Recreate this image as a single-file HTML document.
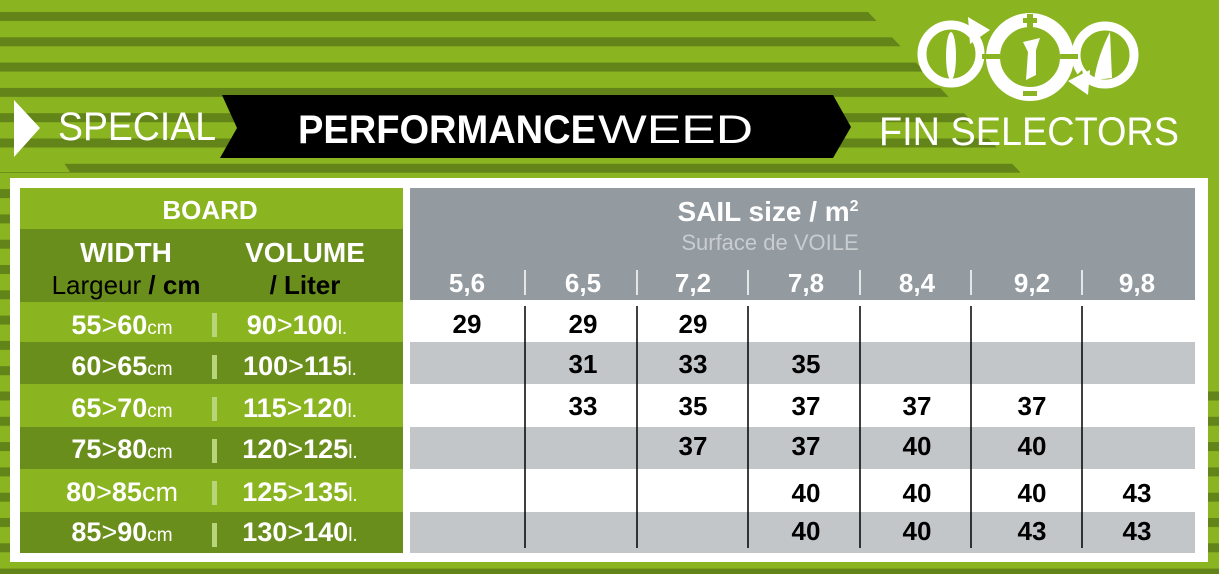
<!DOCTYPE html>
<html><head><meta charset="utf-8"><style>
html,body{margin:0;padding:0;width:1219px;height:574px;overflow:hidden;background:#8ab420}
svg{display:block}
text{font-family:"Liberation Sans",sans-serif}
</style></head><body>
<svg width="1219" height="574" viewBox="0 0 1219 574" xmlns="http://www.w3.org/2000/svg">
<defs>
<pattern id="st" x="0" y="12" width="1219" height="25.3" patternUnits="userSpaceOnUse">
<rect x="0" y="0" width="1219" height="9" fill="#628418"/>
</pattern>
</defs>
<rect width="1219" height="574" fill="#8ab420"/>
<rect width="1219" height="574" fill="url(#st)"/>
<polygon points="860,0 1219,0 1219,380 1207,380 1207,178 1020,178 1020,172 868,12 860,12" fill="#8ab420"/>
<polygon points="0,173 1219,173 1219,178 0,178" fill="#8ab420"/>
<polygon points="0,160 62,160 70,172 0,172" fill="#8ab420"/>
<polygon points="14,100 40,128 14,157" fill="#fff"/>
<text x="58" y="140" font-size="40" fill="#fff" textLength="158" lengthAdjust="spacingAndGlyphs">SPECIAL</text>
<polygon points="222,95 833,95 851,127 833,158 220,158 237,128" fill="#000"/>
<text x="298" y="143" font-size="40" fill="#fff" font-weight="bold" textLength="298" lengthAdjust="spacingAndGlyphs">PERFORMANCE</text>
<text x="598" y="143" font-size="40" fill="#fff" textLength="155" lengthAdjust="spacingAndGlyphs">WEED</text>
<text x="879" y="145" font-size="40" fill="#fff" textLength="300" lengthAdjust="spacingAndGlyphs">FIN SELECTORS</text>
<!-- logo -->
<g fill="none" stroke="#fff" stroke-width="9">
<circle cx="951" cy="54" r="29"/>
<circle cx="1105" cy="55" r="29"/>
</g>
<circle cx="1030" cy="57" r="37" fill="none" stroke="#fff" stroke-width="14"/>
<polygon points="968,18 986,28 974,40" fill="#8ab420"/>
<polygon points="1088,92 1070,82 1082,70" fill="#8ab420"/>
<polygon points="968,17 990,30 970,44" fill="#fff"/>
<polygon points="1090,70 1068,81 1088,95" fill="#fff"/>
<rect x="982" y="54" width="18" height="5" fill="#8ab420"/>
<rect x="1060" y="54" width="18" height="5" fill="#8ab420"/>
<rect x="1027" y="14" width="6" height="14" fill="#8ab420"/><rect x="1023" y="18" width="14" height="5" fill="#8ab420"/>
<rect x="1023" y="91" width="14" height="5" fill="#8ab420"/>
<ellipse cx="951" cy="56" rx="5" ry="24" fill="#fff"/>
<path d="M1023,42 L1040,38 L1036,50 L1036,75 L1026,80 L1028,52 Z" fill="#fff"/>
<path d="M1110,32 L1112,78 L1094,80 Q1098,55 1110,32 Z" fill="#fff"/>
<!-- table frame -->
<rect x="10" y="178" width="1198" height="384" fill="#fff"/>
<rect x="20" y="188" width="383" height="41" fill="#8ab420"/>
<rect x="20" y="229" width="383" height="73" fill="#6a8e1c"/>
<rect x="20" y="302" width="383" height="40" fill="#8ab420"/>
<rect x="20" y="342" width="383" height="42" fill="#6a8e1c"/>
<rect x="20" y="384" width="383" height="43" fill="#8ab420"/>
<rect x="20" y="427" width="383" height="42" fill="#6a8e1c"/>
<rect x="20" y="469" width="383" height="43" fill="#8ab420"/>
<rect x="20" y="512" width="383" height="41" fill="#6a8e1c"/>
<rect x="410" y="188" width="785" height="112" fill="#939aa0"/>
<rect x="410" y="342" width="785" height="42" fill="#c3c6c9"/>
<rect x="410" y="427" width="785" height="42" fill="#c3c6c9"/>
<rect x="410" y="512" width="785" height="41" fill="#c3c6c9"/>
<g font-weight="bold" fill="#fff" text-anchor="middle">
<text x="210" y="219" font-size="26">BOARD</text>
<text x="126" y="262" font-size="28">WIDTH</text>
<text x="305" y="262" font-size="28">VOLUME</text>
</g>
<text x="126" y="294" font-size="26" text-anchor="middle" fill="#000"><tspan>Largeur</tspan><tspan font-weight="bold"> / cm</tspan></text>
<text x="305" y="294" font-size="26" text-anchor="middle" fill="#000" font-weight="bold">/ Liter</text>
<g fill="#b9d57a">
<rect x="212" y="313" width="5" height="24"/><rect x="212" y="355" width="5" height="24"/><rect x="212" y="397" width="5" height="24"/>
<rect x="212" y="439" width="5" height="24"/><rect x="212" y="481" width="5" height="24"/><rect x="212" y="523" width="5" height="24"/>
</g>
<g fill="#fff" font-size="27" font-weight="bold" text-anchor="middle">
<text x="122" y="334">55<tspan font-weight="normal">&gt;</tspan>60<tspan font-weight="normal" font-size="19">cm</tspan></text>
<text x="122" y="375">60<tspan font-weight="normal">&gt;</tspan>65<tspan font-weight="normal" font-size="19">cm</tspan></text>
<text x="122" y="417">65<tspan font-weight="normal">&gt;</tspan>70<tspan font-weight="normal" font-size="19">cm</tspan></text>
<text x="122" y="458">75<tspan font-weight="normal">&gt;</tspan>80<tspan font-weight="normal" font-size="19">cm</tspan></text>
<text x="122" y="501">80<tspan font-weight="normal">&gt;</tspan>85<tspan font-weight="normal">cm</tspan></text>
<text x="122" y="541">85<tspan font-weight="normal">&gt;</tspan>90<tspan font-weight="normal" font-size="19">cm</tspan></text>
<text x="297" y="334">90<tspan font-weight="normal">&gt;</tspan>100<tspan font-weight="normal" font-size="19">l.</tspan></text>
<text x="300" y="375">100<tspan font-weight="normal">&gt;</tspan>115<tspan font-weight="normal" font-size="19">l.</tspan></text>
<text x="300" y="417">115<tspan font-weight="normal">&gt;</tspan>120<tspan font-weight="normal" font-size="19">l.</tspan></text>
<text x="300" y="458">120<tspan font-weight="normal">&gt;</tspan>125<tspan font-weight="normal" font-size="19">l.</tspan></text>
<text x="300" y="501">125<tspan font-weight="normal">&gt;</tspan>135<tspan font-weight="normal" font-size="19">l.</tspan></text>
<text x="300" y="541">130<tspan font-weight="normal">&gt;</tspan>140<tspan font-weight="normal" font-size="19">l.</tspan></text>
</g>
<text x="768" y="221" font-size="28" font-weight="bold" fill="#fff" text-anchor="middle">SAIL size / m<tspan font-size="16" dy="-10">2</tspan></text>
<text x="770" y="250" font-size="22" fill="#c9cdd0" text-anchor="middle">Surface de VOILE</text>
<g fill="#fff" font-size="26" font-weight="bold" text-anchor="middle">
<text x="467" y="292">5,6</text><text x="583" y="292">6,5</text><text x="693" y="292">7,2</text>
<text x="806" y="292">7,8</text><text x="917" y="292">8,4</text><text x="1032" y="292">9,2</text><text x="1137" y="292">9,8</text>
</g>
<g stroke="#fff" stroke-width="1.5">
<line x1="525" y1="270" x2="525" y2="295"/><line x1="637" y1="270" x2="637" y2="295"/><line x1="748" y1="270" x2="748" y2="295"/>
<line x1="860" y1="270" x2="860" y2="295"/><line x1="971" y1="270" x2="971" y2="295"/><line x1="1082" y1="270" x2="1082" y2="295"/>
</g>
<g stroke="#000" stroke-width="1.5">
<line x1="525" y1="306" x2="525" y2="548"/><line x1="637" y1="306" x2="637" y2="548"/><line x1="748" y1="306" x2="748" y2="548"/>
<line x1="860" y1="306" x2="860" y2="548"/><line x1="971" y1="306" x2="971" y2="548"/><line x1="1082" y1="306" x2="1082" y2="548"/>
</g>
<g fill="#000" font-size="26" font-weight="bold" text-anchor="middle">
<text x="467" y="333">29</text><text x="583" y="333">29</text><text x="693" y="333">29</text>
<text x="583" y="373">31</text><text x="693" y="373">33</text><text x="806" y="373">35</text>
<text x="583" y="415">33</text><text x="693" y="415">35</text><text x="806" y="415">37</text><text x="917" y="415">37</text><text x="1032" y="415">37</text>
<text x="693" y="455">37</text><text x="806" y="455">37</text><text x="917" y="455">40</text><text x="1032" y="455">40</text>
<text x="806" y="502">40</text><text x="917" y="502">40</text><text x="1032" y="502">40</text><text x="1137" y="502">43</text>
<text x="806" y="540">40</text><text x="917" y="540">40</text><text x="1032" y="540">43</text><text x="1137" y="540">43</text>
</g>
</svg>
</body></html>
